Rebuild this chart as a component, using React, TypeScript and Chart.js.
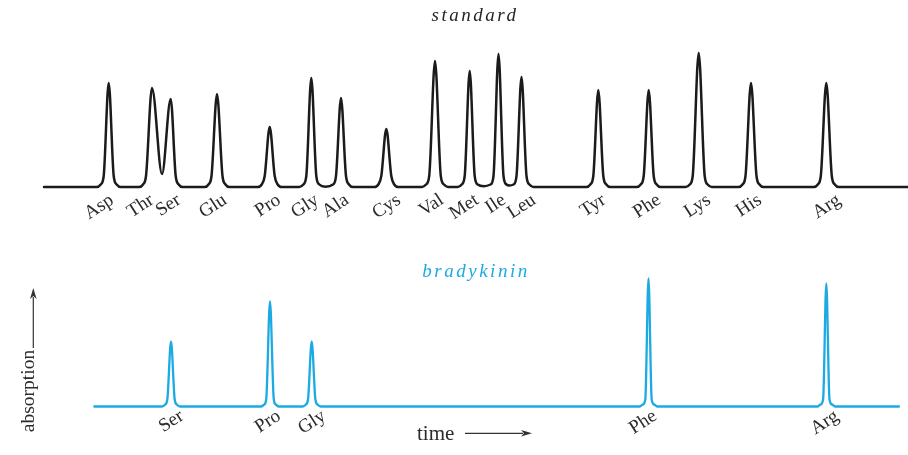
import React, { useEffect, useRef } from 'react';
import { Chart, registerables } from 'chart.js';

Chart.register(...registerables);

// ---------- data ----------
// standard amino-acid mixture: peak labels and where each label sits on the time axis
const standardNames = ['Asp', 'Thr', 'Ser', 'Glu', 'Pro', 'Gly', 'Ala', 'Cys', 'Val', 'Met', 'Ile', 'Leu', 'Tyr', 'Phe', 'Lys', 'His', 'Arg'];
const standardLabelTimes = [112, 152, 179, 225, 279, 317, 347, 399, 442, 477, 504, 534, 604, 659, 709, 760, 839];

// standard trace: key points (time, absorption) – feet, shoulders, knees, tops and valleys
const standardTime = [
  44,
  96.7, 100.7, 103.7, 108.7, 113.7, 116.7, 120.7,
  139, 143, 146, 152, 162, 170.7, 175.7, 178.7, 182.7,
  204.5, 208.5, 211.5, 217, 222.5, 225.5, 229.5,
  257.7, 261.7, 264.7, 269.7, 274.7, 277.7, 281.7,
  299.3, 303.3, 306.3, 311.3, 316.3, 319.3, 325.5, 333, 336, 341, 346, 349, 353,
  374.3, 378.3, 381.3, 386.3, 391.3, 394.3, 398.3,
  422, 426, 429.2, 435, 440.8, 444, 448,
  457.7, 461.7, 464.7, 469.7, 474.7, 477.7, 484, 490.5, 493.5, 498.5, 503.5, 506.5, 509.5, 513.5, 516.5, 521.5, 526.5, 529.5, 533.5,
  586.3, 590.3, 593.3, 598.3, 603.3, 606.3, 610.3,
  636.7, 640.7, 643.7, 648.7, 653.7, 656.7, 660.7,
  685.7, 689.7, 692.7, 698.7, 704.7, 707.7, 711.7,
  738.5, 742.5, 745.5, 751, 756.5, 759.5, 763.5,
  813.8, 817.8, 820.8, 826.3, 831.8, 834.8, 838.8,
  908,
];
const standardAbsorption = [
  0,
  0, 2.5, 11, 104, 11, 2.5, 0,
  0, 2.5, 11, 99, 13, 88, 11, 2.5, 0,
  0, 2.5, 11, 93, 11, 2.5, 0,
  0, 2.5, 11, 60, 11, 2.5, 0,
  0, 2.5, 11, 109, 11, 2.5, 0.3, 2.5, 11, 89, 11, 2.5, 0,
  0, 2.5, 11, 58, 11, 2.5, 0,
  0, 2.5, 11, 126, 11, 2.5, 0,
  0, 2.5, 11, 116, 11, 2.5, 0.8, 2.5, 11, 133, 11, 2.5, 1.5, 2.5, 11, 110, 11, 2.5, 0,
  0, 2.5, 11, 97, 11, 2.5, 0,
  0, 2.5, 11, 97, 11, 2.5, 0,
  0, 2.5, 11, 134, 11, 2.5, 0,
  0, 2.5, 11, 104, 11, 2.5, 0,
  0, 2.5, 11, 104, 11, 2.5, 0,
  0,
];

// bradykinin hydrolysate
const bradykininNames = ['Ser', 'Pro', 'Gly', 'Phe', 'Arg'];
const bradykininLabelTimes = [182, 279, 324, 655, 837];
const bradykininTime = [
  94.3,
  162, 165, 167.3, 171, 174.7, 177, 180,
  261, 264, 266.2, 270, 273.8, 276, 279,
  302.7, 305.7, 308, 311.7, 315.4, 317.7, 320.7,
  639.5, 642.5, 645.3, 648.5, 651.7, 654.5, 657.5,
  817.3, 820.3, 823.1, 826.3, 829.5, 832.3, 835.3,
  899,
];
const bradykininAbsorption = [
  0,
  0, 1.8, 7, 65, 7, 1.8, 0,
  0, 1.8, 7, 105, 7, 1.8, 0,
  0, 1.8, 7, 65, 7, 1.8, 0,
  0, 1.8, 7, 128, 7, 1.8, 0,
  0, 1.8, 7, 123, 7, 1.8, 0,
  0,
];

// ---------- styles ----------
const SERIF = '"Liberation Serif", "Times New Roman", serif';
const BLACK = '#1b1b1b';
const CYAN = '#1DAAE2';
const TEXT = '#2b2b2b';

function toPoints(xs: number[], ys: number[]) {
  return xs.map((x, i) => ({ x, y: ys[i] }));
}

function drawArrow(ctx: CanvasRenderingContext2D, x1: number, y1: number, x2: number, y2: number, color: string) {
  const ang = Math.atan2(y2 - y1, x2 - x1);
  const headLen = 11;
  const headHalf = 3.3;
  ctx.save();
  ctx.strokeStyle = color;
  ctx.fillStyle = color;
  ctx.lineWidth = 1.2;
  ctx.beginPath();
  ctx.moveTo(x1, y1);
  ctx.lineTo(x2 - Math.cos(ang) * (headLen - 2), y2 - Math.sin(ang) * (headLen - 2));
  ctx.stroke();
  ctx.translate(x2, y2);
  ctx.rotate(ang);
  ctx.beginPath();
  ctx.moveTo(0, 0);
  ctx.lineTo(-headLen, -headHalf);
  ctx.lineTo(-headLen + 3, 0);
  ctx.lineTo(-headLen, headHalf);
  ctx.closePath();
  ctx.fill();
  ctx.restore();
}

function baseOptions(
  names: string[],
  labelTimes: number[],
  yMin: number,
  yMax: number,
  padTop: number,
  axisHeight: number,
  tickPad: number,
) {
  return {
    responsive: false,
    maintainAspectRatio: false,
    animation: false as const,
    devicePixelRatio: 1,
    layout: { padding: { top: padTop, left: 0, right: 0, bottom: 0 } },
    plugins: {
      legend: { display: false },
      tooltip: { enabled: false },
      title: { display: false },
    },
    elements: { point: { radius: 0 } },
    scales: {
      x: {
        type: 'linear' as const,
        min: 0,
        max: 908,
        grid: { display: false, drawTicks: false },
        border: { display: false },
        afterBuildTicks: (scale: any) => {
          scale.ticks = labelTimes.map((v) => ({ value: v }));
        },
        afterFit: (scale: any) => {
          scale.height = axisHeight;
        },
        ticks: {
          autoSkip: false,
          minRotation: 33,
          maxRotation: 33,
          padding: tickPad,
          color: TEXT,
          font: { family: SERIF, size: 19 },
          callback: (_v: any, i: number) => names[i],
        },
      },
      y: {
        display: false,
        min: yMin,
        max: yMax,
      },
    },
  };
}

export default function App() {
  const topRef = useRef<HTMLCanvasElement>(null);
  const bottomRef = useRef<HTMLCanvasElement>(null);

  useEffect(() => {
    const topTitle = {
      id: 'topTitle',
      afterDraw(chart: any) {
        const ctx = chart.ctx as CanvasRenderingContext2D;
        const cx = chart.scales.x.getPixelForValue(475);
        ctx.save();
        ctx.font = `italic 19px ${SERIF}`;
        (ctx as any).letterSpacing = '2.5px';
        ctx.fillStyle = '#262626';
        ctx.textAlign = 'center';
        ctx.textBaseline = 'alphabetic';
        ctx.fillText('standard', cx, 20.5);
        ctx.restore();
      },
    };

    const bottomText = {
      id: 'bottomText',
      afterDraw(chart: any) {
        const ctx = chart.ctx as CanvasRenderingContext2D;
        const xs = chart.scales.x;
        ctx.save();
        ctx.font = `italic 19px ${SERIF}`;
        (ctx as any).letterSpacing = '2.5px';
        ctx.fillStyle = CYAN;
        ctx.textAlign = 'center';
        ctx.textBaseline = 'alphabetic';
        ctx.fillText('bradykinin', xs.getPixelForValue(476), 26.7);
        ctx.restore();

        // y-axis caption
        ctx.save();
        ctx.font = `19.5px ${SERIF}`;
        ctx.fillStyle = TEXT;
        ctx.translate(33.5, 141);
        ctx.rotate(-Math.PI / 2);
        ctx.textAlign = 'center';
        ctx.textBaseline = 'alphabetic';
        ctx.fillText('absorption', 0, 0);
        ctx.restore();
        drawArrow(ctx, 33.3, 98, 33.3, 38, '#333');

        // x-axis caption
        ctx.save();
        ctx.font = `21px ${SERIF}`;
        ctx.fillStyle = TEXT;
        ctx.textAlign = 'left';
        ctx.textBaseline = 'alphabetic';
        ctx.fillText('time', xs.getPixelForValue(417), 190);
        ctx.restore();
        drawArrow(ctx, xs.getPixelForValue(465), 183.3, xs.getPixelForValue(532), 183.3, '#333');
      },
    };

    const top = new Chart(topRef.current as HTMLCanvasElement, {
      type: 'line',
      data: {
        datasets: [
          {
            label: 'standard',
            data: toPoints(standardTime, standardAbsorption),
            borderColor: BLACK,
            borderWidth: 2.5,
            borderJoinStyle: 'round',
            borderCapStyle: 'round',
            cubicInterpolationMode: 'monotone',
            pointRadius: 0,
            fill: false,
          },
        ],
      },
      options: baseOptions(standardNames, standardLabelTimes, -3, 147, 40, 60, -1) as any,
      plugins: [topTitle],
    });

    const bottom = new Chart(bottomRef.current as HTMLCanvasElement, {
      type: 'line',
      data: {
        datasets: [
          {
            label: 'bradykinin',
            data: toPoints(bradykininTime, bradykininAbsorption),
            borderColor: CYAN,
            borderWidth: 2.3,
            borderJoinStyle: 'round',
            borderCapStyle: 'round',
            cubicInterpolationMode: 'monotone',
            pointRadius: 0,
            fill: false,
          },
        ],
      },
      options: baseOptions(bradykininNames, bradykininLabelTimes, -3.5, 136.5, 20, 45, -5) as any,
      plugins: [bottomText],
    });

    return () => {
      top.destroy();
      bottom.destroy();
    };
  }, []);

  return (
    <div style={{ position: 'absolute', left: 0, top: 0, width: 908, height: 455, background: '#ffffff' }}>
      <canvas ref={topRef} width={908} height={250} style={{ position: 'absolute', left: 0, top: 0 }} />
      <canvas ref={bottomRef} width={908} height={205} style={{ position: 'absolute', left: 0, top: 250 }} />
    </div>
  );
}
